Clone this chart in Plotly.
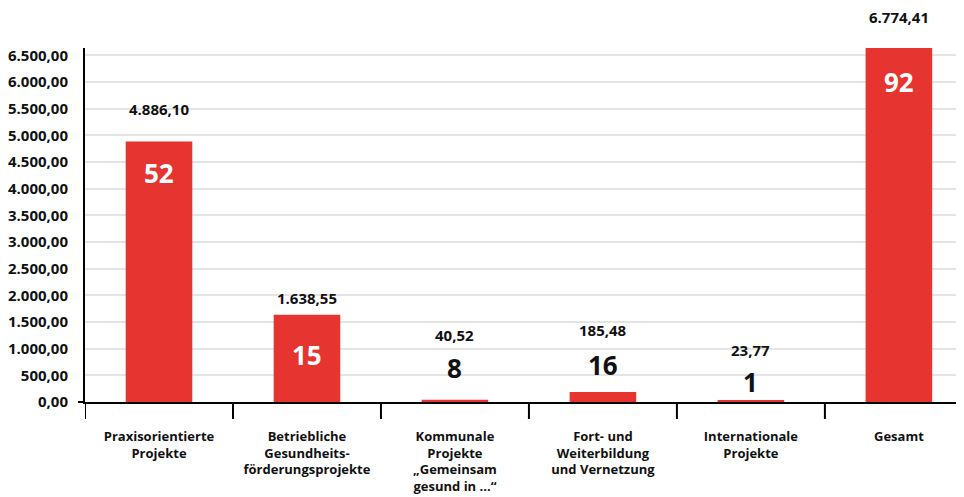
import plotly.graph_objects as go

categories = [
    "Praxisorientierte<br>Projekte",
    "Betriebliche<br>Gesundheits-<br>förderungsprojekte",
    "Kommunale<br>Projekte<br>„Gemeinsam<br>gesund in ...“",
    "Fort- und<br>Weiterbildung<br>und Vernetzung",
    "Internationale<br>Projekte",
    "Gesamt",
]
amounts = [4886.10, 1638.55, 40.52, 185.48, 23.77, 6774.41]
counts = [52, 15, 8, 16, 1, 92]
y_ticks = [0, 500, 1000, 1500, 2000, 2500, 3000, 3500, 4000, 4500, 5000, 5500, 6000, 6500]

Y_MAX = 6640
# label placement (layout only, in axis units)
amount_label_y = [5500, 1950, 1250, 1350, 975, 7230]
count_label_y = [4290, 880, 640, 695, 375, 5995]
count_inside = [True, True, False, False, False, True]

RED = "#E63530"
FONT = "Open Sans"


def de(v):
    s = f"{v:,.2f}"
    return s.replace(",", "X").replace(".", ",").replace("X", ".")


x_idx = list(range(len(categories)))

fig = go.Figure()
fig.add_trace(go.Bar(
    x=x_idx, y=amounts, marker=dict(color=RED, line=dict(width=0)),
    width=0.45, hoverinfo="skip",
))

ann = []
for i, (a, c) in enumerate(zip(amounts, counts)):
    ann.append(dict(x=i, y=amount_label_y[i] / Y_MAX, xref="x", yref="paper", text=f"<b>{de(a)}</b>",
                    showarrow=False, font=dict(family=FONT, size=15, color="#111111"),
                    yanchor="middle"))
    ann.append(dict(x=i, y=count_label_y[i] / Y_MAX, xref="x", yref="paper", text=f"<b>{c}</b>",
                    showarrow=False,
                    font=dict(family=FONT, size=26, color="white" if count_inside[i] else "#111111"),
                    yanchor="middle"))

fig.update_layout(
    width=964, height=497,
    margin=dict(l=77, r=8, t=40, b=103),
    paper_bgcolor="white", plot_bgcolor="white",
    showlegend=False,
    annotations=ann,
    font=dict(family=FONT, color="#111111"),
    xaxis=dict(
        tickmode="array", tickvals=x_idx,
        ticktext=[f"<b>{c}</b>" for c in categories],
        range=[-0.5, 5.44], automargin=False,
        showline=True, linecolor="black", linewidth=2,
        ticks="", ticklabelstandoff=21,
        showgrid=False, zeroline=False,
        tickfont=dict(family=FONT, size=13, color="#111111"),
    ),
    yaxis=dict(
        range=[0, Y_MAX], automargin=False,
        tickmode="array", tickvals=y_ticks,
        ticktext=[f"<b>{de(v)}</b>" for v in y_ticks],
        showline=True, linecolor="black", linewidth=2,
        showgrid=True, gridcolor="#e4e4e4", gridwidth=2,
        zeroline=False, ticks="", ticklabelstandoff=12,
        tickfont=dict(family=FONT, size=15, color="#111111"),
    ),
    shapes=[
        dict(type="line", xref="paper", yref="paper", x0=-0.008, x1=0, y0=0, y1=0,
             line=dict(color="black", width=2)),
    ] + [
        dict(type="line", xref="x", yref="paper", x0=b, x1=b, y0=0, y1=-17 / 354,
             line=dict(color="black", width=2))
        for b in [-0.5, 0.5, 1.5, 2.5, 3.5, 4.5]
    ],
)

fig.write_html("out.html")
